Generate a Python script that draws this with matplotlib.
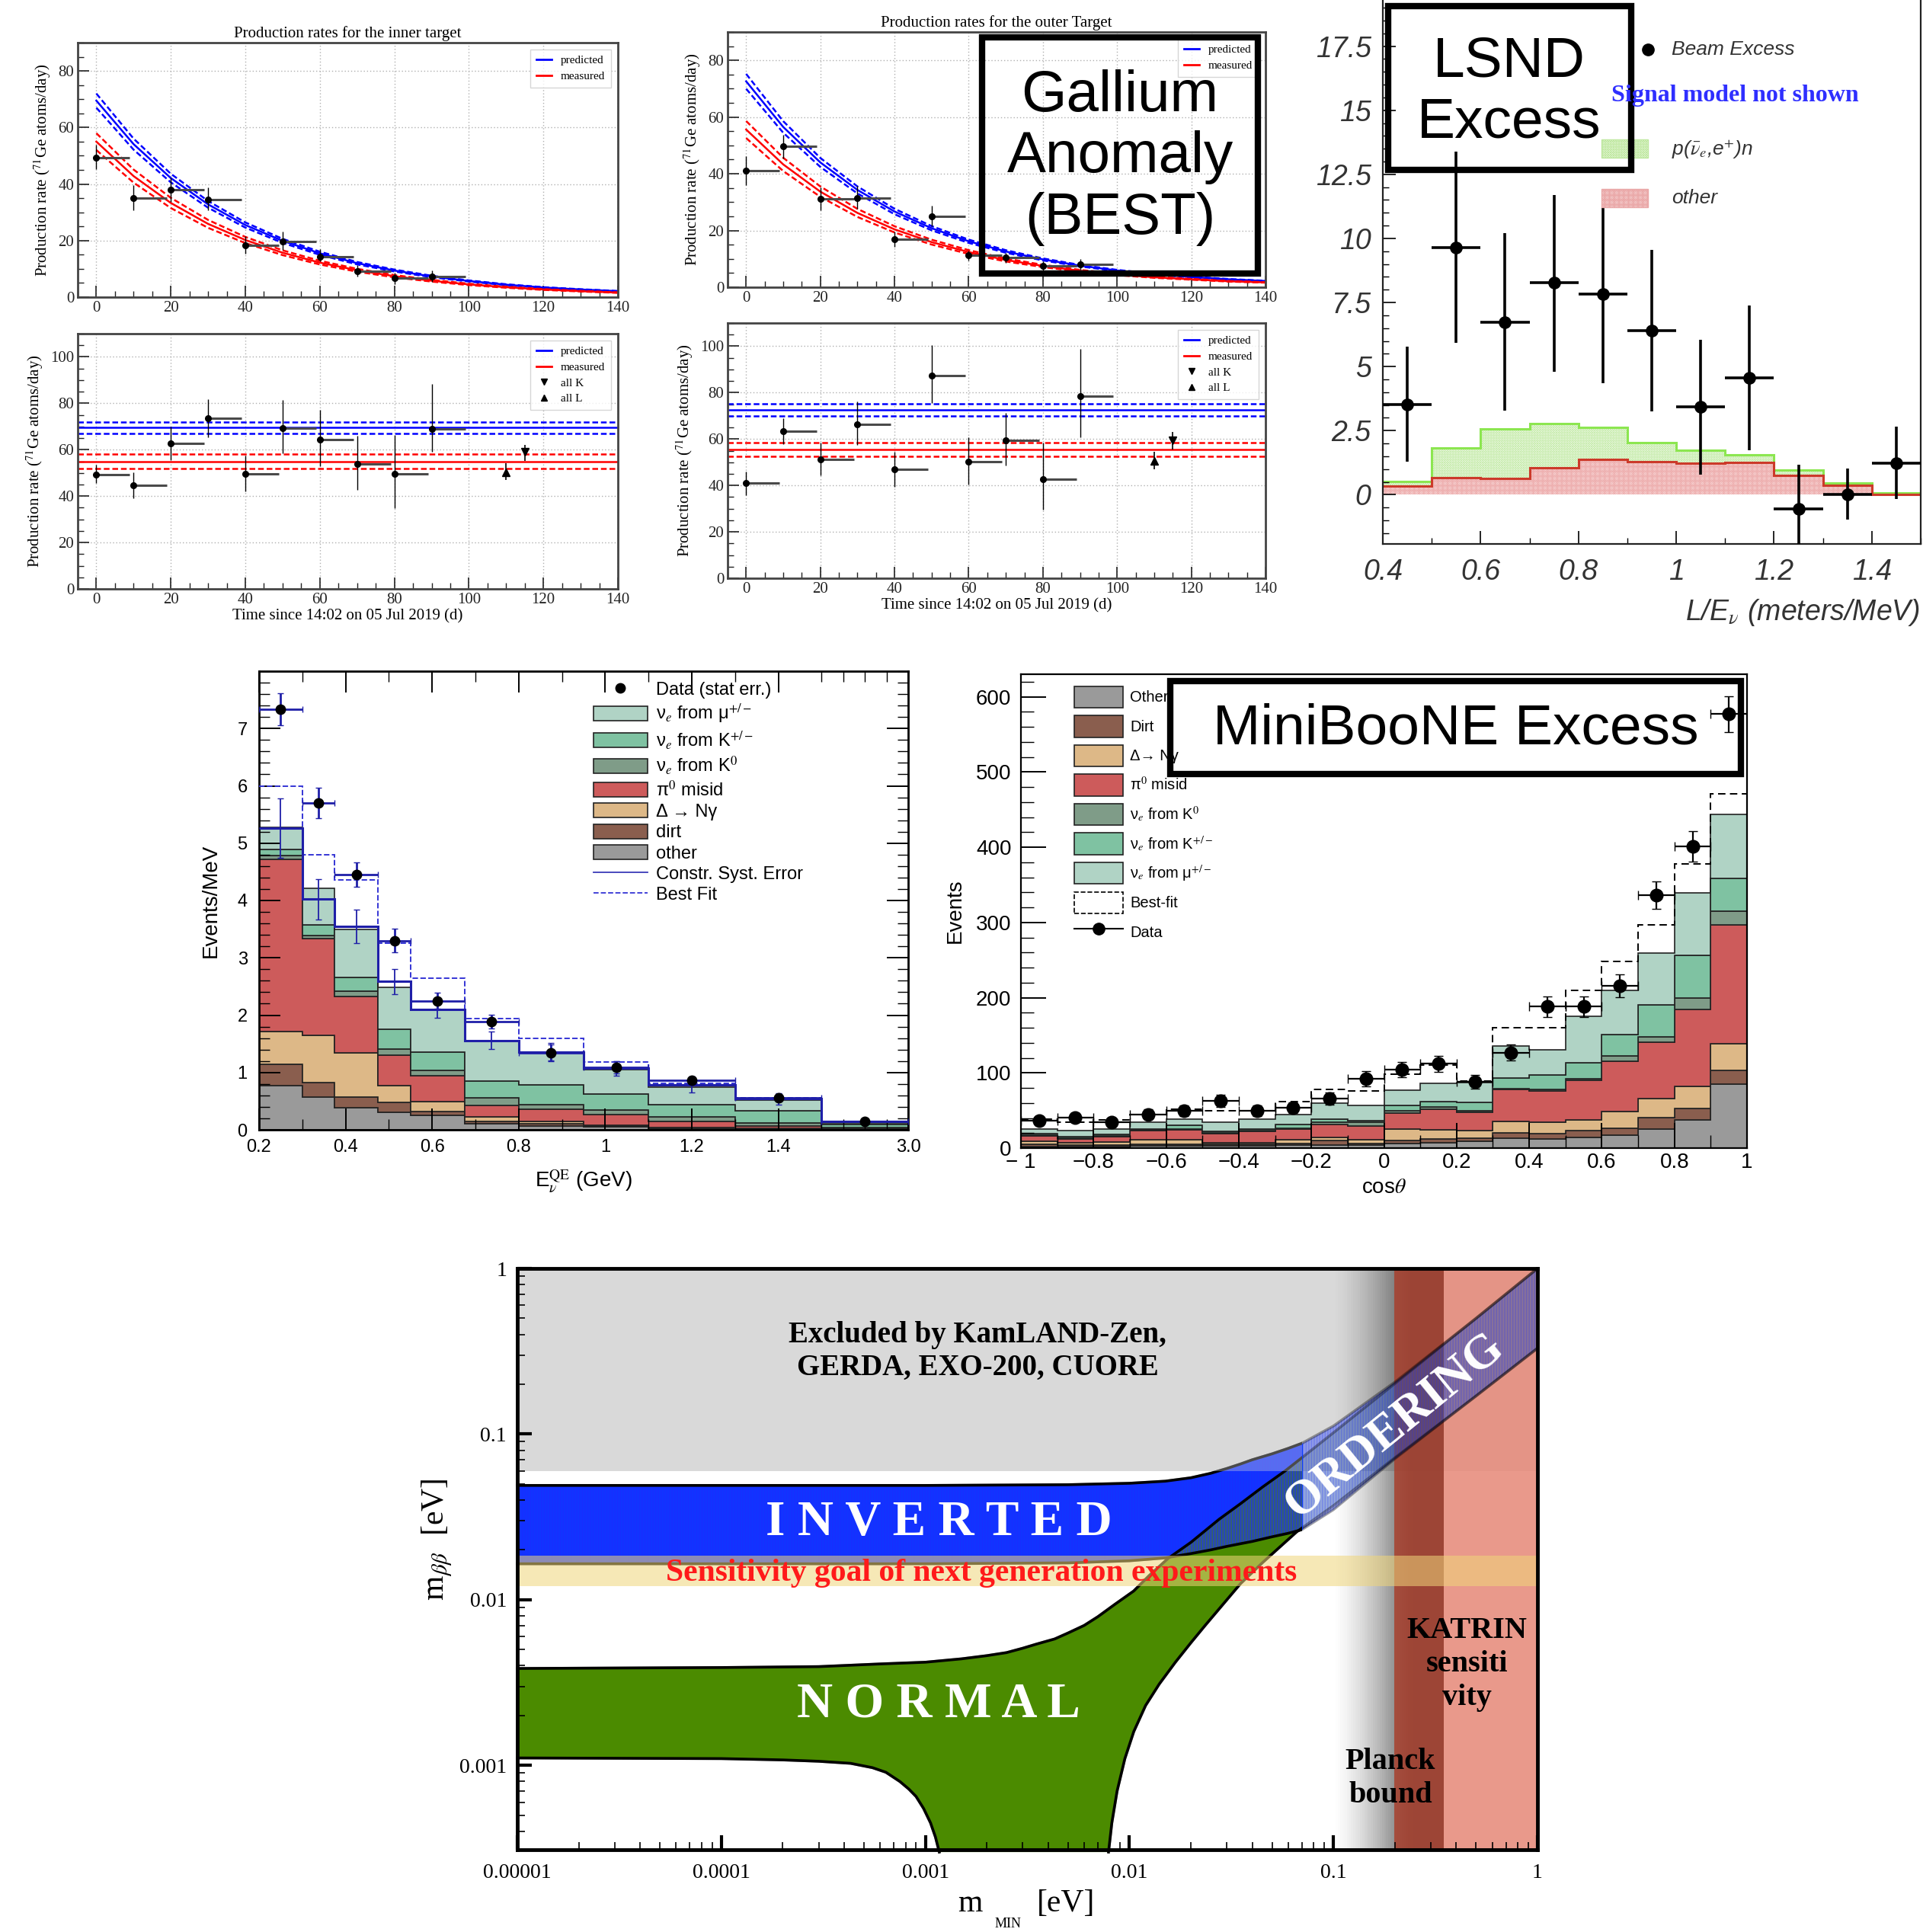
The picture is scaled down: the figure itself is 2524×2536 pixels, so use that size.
import numpy as np
import matplotlib
matplotlib.use("Agg")
import matplotlib.pyplot as plt
from matplotlib.patches import Rectangle, Patch
from matplotlib.lines import Line2D
from matplotlib.ticker import MultipleLocator, NullFormatter

plt.rcParams['mathtext.fontset'] = 'stix'
plt.rcParams['hatch.linewidth'] = 0.6

SERIF = 'Liberation Serif'
SANS = 'Liberation Sans'

# ---------------- BEST (gallium) ----------------
t_curve = [0, 10, 20, 30, 40, 50, 60, 70, 80, 90, 100, 110, 120, 130, 140]
inner_pred = [69.5, 54.1, 42.1, 32.8, 25.5, 19.9, 15.5, 12.0, 9.4, 7.3, 5.7, 4.4, 3.4, 2.7, 2.1]
inner_meas = [55.0, 42.8, 33.3, 25.9, 20.2, 15.7, 12.2, 9.5, 7.4, 5.8, 4.5, 3.5, 2.7, 2.1, 1.6]
outer_pred = [72.6, 56.5, 44.0, 34.3, 26.7, 20.8, 16.2, 12.6, 9.8, 7.6, 5.9, 4.6, 3.6, 2.8, 2.2]
outer_meas = [55.6, 43.3, 33.7, 26.2, 20.4, 15.9, 12.4, 9.6, 7.5, 5.8, 4.5, 3.5, 2.8, 2.1, 1.7]
pred_band = 0.036   # relative uncertainty (dashed lines)
meas_band = 0.054

run_start = [0, 10, 20, 30, 40, 50, 60, 70, 80, 90]
run_len = 9

inner_rate = [49.4, 34.9, 38.1, 34.5, 18.2, 19.8, 14.2, 9.2, 6.7, 7.2]
inner_rate_lo = [45.4, 30.6, 33.7, 30.7, 15.3, 16.6, 12.6, 7.2, 4.5, 5.4]
inner_rate_hi = [53.8, 39.6, 42.2, 38.7, 21.6, 23.2, 17.1, 11.2, 8.5, 9.4]

inner_norm = [49.3, 44.8, 62.8, 73.4, 49.7, 69.3, 64.4, 53.7, 49.7, 69.0]
inner_norm_lo = [45.5, 39.2, 55.5, 65.2, 41.9, 58.4, 52.9, 42.7, 34.8, 59.1]
inner_norm_hi = [53.5, 50.4, 70.1, 81.8, 57.5, 81.4, 77.2, 65.9, 66.3, 88.4]
inner_allK = (115, 59.1, 55.3, 61.9)
inner_allL = (110, 50.4, 46.9, 54.2)

outer_rate = [41.0, 49.6, 31.1, 31.5, 17.0, 25.0, 11.2, 10.4, 7.5, 8.1]
outer_rate_lo = [36.0, 45.3, 27.1, 27.8, 14.3, 21.5, 9.4, 8.5, 5.8, 6.3]
outer_rate_hi = [46.1, 53.8, 35.2, 35.6, 19.7, 28.7, 13.0, 12.1, 9.2, 9.9]

outer_norm = [40.9, 63.4, 51.3, 66.4, 46.8, 87.2, 50.2, 59.5, 42.8, 78.6]
outer_norm_lo = [35.7, 57.8, 44.4, 57.3, 39.4, 75.4, 40.5, 48.5, 29.4, 60.6]
outer_norm_hi = [46.1, 69.0, 58.4, 76.2, 54.5, 100.5, 60.8, 71.2, 58.4, 98.7]
outer_allK = (115, 59.5, 55.5, 63.0)
outer_allL = (110, 50.5, 46.9, 54.5)

# ---------------- LSND ----------------
lsnd_edges = [0.4, 0.5, 0.6, 0.7, 0.8, 0.9, 1.0, 1.1, 1.2, 1.3, 1.4, 1.5]
lsnd_excess = [3.53, 9.65, 6.72, 8.27, 7.82, 6.40, 3.42, 4.55, -0.55, 0.0, 1.22]
lsnd_lo = [1.29, 5.92, 3.27, 4.79, 4.36, 3.25, 0.78, 1.73, -2.4, -0.97, -0.16]
lsnd_hi = [5.78, 13.4, 10.2, 11.7, 11.3, 9.54, 6.04, 7.38, 1.18, 1.02, 2.67]
lsnd_other = [0.35, 0.68, 0.63, 1.05, 1.37, 1.29, 1.22, 1.26, 0.75, 0.38, 0.0]
lsnd_total = [0.52, 1.81, 2.56, 2.79, 2.62, 2.04, 1.73, 1.57, 0.97, 0.47, 0.08]

# ---------------- MiniBooNE, energy ----------------
mbE_edges = [0.2, 0.3, 0.375, 0.475, 0.55, 0.675, 0.8, 0.95, 1.1, 1.3, 1.5, 3.0]
mbE_other = [0.77, 0.57, 0.38, 0.31, 0.25, 0.11, 0.07, 0.05, 0.03, 0.02, 0.01]
mbE_dirt = [0.37, 0.26, 0.19, 0.17, 0.07, 0.04, 0.04, 0.02, 0.01, 0.00, 0.00]
mbE_delta = [0.57, 0.82, 0.77, 0.29, 0.17, 0.07, 0.03, 0.01, 0.00, 0.01, 0.00]
mbE_pi0 = [3.01, 1.68, 0.99, 0.53, 0.45, 0.20, 0.22, 0.19, 0.11, 0.04, 0.01]
mbE_k0 = [0.06, 0.06, 0.09, 0.11, 0.09, 0.14, 0.08, 0.07, 0.07, 0.05, 0.02]
mbE_kpm = [0.11, 0.19, 0.24, 0.34, 0.33, 0.29, 0.34, 0.28, 0.22, 0.21, 0.05]
mbE_mu = [0.38, 0.63, 0.84, 0.73, 0.74, 0.71, 0.56, 0.43, 0.30, 0.19, 0.03]
mbE_best = [6.00, 4.80, 4.36, 3.26, 2.64, 1.94, 1.59, 1.18, 0.81, 0.56, 0.15]
mbE_constr = [5.26, 4.02, 3.55, 2.59, 2.10, 1.56, 1.36, 1.07, 0.78, 0.54, 0.14]
mbE_constr_err = [0.52, 0.35, 0.29, 0.22, 0.14, 0.15, 0.15, 0.12, 0.13, 0.10, 0.03]
mbE_data = [7.33, 5.70, 4.45, 3.30, 2.25, 1.89, 1.34, 1.09, 0.86, 0.56, 0.14]
mbE_data_err = [0.28, 0.27, 0.21, 0.21, 0.14, 0.12, 0.15, 0.10, 0.07, 0.07, 0.03]

# ---------------- MiniBooNE, cos theta ----------------
cos_edges = [-1.0, -0.9, -0.8, -0.7, -0.6, -0.5, -0.4, -0.3, -0.2, -0.1, 0.0,
             0.1, 0.2, 0.3, 0.4, 0.5, 0.6, 0.7, 0.8, 0.9, 1.0]
mbC_other = [2, 2, 2, 3, 3, 3, 3, 4, 4, 4, 6, 7, 9, 13, 12, 14, 17, 25, 37, 85]
mbC_dirt = [3, 2, 2, 2, 2, 2, 2, 2, 6, 2, 4, 5, 4, 7, 7, 9, 9, 16, 16, 18]
mbC_delta = [4, 3, 4, 6, 6, 2, 2, 5, 4, 5, 15, 12, 10, 15, 15, 14, 23, 25, 29, 36]
mbC_pi0 = [7, 5, 7, 12, 13, 12, 15, 14, 17, 18, 22, 28, 25, 43, 42, 53, 66, 75, 102, 158]
mbC_k0 = [1, 1, 1, 1, 1, 1, 1, 1, 3, 5, 3, 3, 2, 1, 2, 2, 8, 7, 16, 18]
mbC_kpm = [2, 2, 2, 1, 5, 2, 2, 5, 4, 2, 7, 7, 11, 14, 19, 21, 28, 42, 56, 44]
mbC_mu = [6, 8, 7, 9, 8, 12, 13, 14, 22, 21, 20, 24, 26, 43, 34, 62, 59, 69, 83, 85]
mbC_best = [38, 34, 37, 45, 52, 50, 50, 62, 78, 76, 98, 110, 89, 160, 160, 210, 248, 297, 378, 471]
mbC_data = [36, 41, 34, 45, 50, 63, 50, 54, 66, 92, 104, 112, 88, 127, 188, 188, 216, 336, 401, 577]
mbC_data_err = [6, 6, 6, 7, 7, 8, 7, 7, 8, 10, 10, 11, 9, 11, 14, 14, 15, 18, 20, 24]

# ---------------- 0vbb effective mass ----------------
io_x = [1e-5, 1e-4, 1e-3, 0.005, 0.01, 0.015, 0.02, 0.025, 0.03, 0.035, 0.04, 0.05, 0.06, 0.07,
        0.1, 0.2, 0.5, 1.0]
io_upper = [0.049, 0.049, 0.049, 0.0495, 0.0505, 0.052, 0.0545, 0.058, 0.062, 0.066, 0.070, 0.076,
            0.082, 0.088, 0.112, 0.206, 0.5, 1.0]
io_lower = [0.0165, 0.0165, 0.0165, 0.0167, 0.0172, 0.0179, 0.019, 0.020, 0.021, 0.0218, 0.0225,
            0.024, 0.0252, 0.0265, 0.035, 0.071, 0.17, 0.33]

no_up_x = [1e-5, 1e-4, 3e-4, 6e-4, 1e-3, 1.5e-3, 2e-3, 2.5e-3, 3e-3, 3.5e-3, 4.3e-3, 5e-3, 6e-3,
           7e-3, 8.5e-3, 0.0105, 0.0125, 0.0155, 0.02, 0.0275, 0.035, 0.045, 0.058, 0.07, 0.1,
           0.2, 0.5, 1.0]
no_upper = [0.00385, 0.0039, 0.00395, 0.0041, 0.0042, 0.0044, 0.0046, 0.0048, 0.0051, 0.0054,
            0.0058, 0.0063, 0.0070, 0.0079, 0.0094, 0.0113, 0.0140, 0.0178, 0.0222, 0.0306,
            0.038, 0.048, 0.060, 0.072, 0.102, 0.202, 0.5, 1.0]
no_left_x = [1e-5, 1e-4, 2e-4, 3e-4, 4.3e-4, 5.5e-4, 6.4e-4, 7.5e-4, 8.3e-4, 9e-4, 9.8e-4,
             1.06e-3, 1.12e-3, 1.17e-3]
no_left = [0.00111, 0.0011, 0.00108, 0.00106, 0.00103, 0.00097, 0.00091, 0.0008, 0.00072,
           0.00065, 0.00055, 0.00045, 0.00037, 0.0003]
no_right_x = [0.0079, 0.0082, 0.0087, 0.0095, 0.0105, 0.012, 0.014, 0.0168, 0.02, 0.0235, 0.0275,
              0.035, 0.045, 0.055, 0.066, 0.1, 0.2, 0.5, 1.0]
no_right = [0.0003, 0.00045, 0.0007, 0.0011, 0.0016, 0.0023, 0.0031, 0.0042, 0.0055, 0.0070,
            0.0088, 0.0125, 0.0168, 0.021, 0.0257, 0.037, 0.072, 0.17, 0.33]

W, H = 2524, 2536
fig = plt.figure(figsize=(W / 100, H / 100), dpi=100)


def px_box(l, t, r, b):
    return [l / W, 1 - b / H, (r - l) / W, (b - t) / H]


def fx(x):
    return x / W


def fy(y):
    return 1 - y / H


def frame_box(l, t, r, b, lw=6):
    rect = Rectangle((fx(l), fy(b)), (r - l) / W, (b - t) / H, transform=fig.transFigure,
                     fill=False, ec='black', lw=lw)
    fig.add_artist(rect)


# ======== gallium panels ========
def style_gallium(ax, ymax):
    ax.set_xlim(-5, 140)
    ax.set_ylim(0, ymax)
    ax.xaxis.set_major_locator(MultipleLocator(20))
    ax.xaxis.set_minor_locator(MultipleLocator(5))
    ax.yaxis.set_major_locator(MultipleLocator(20))
    ax.yaxis.set_minor_locator(MultipleLocator(5))
    ax.tick_params(which='both', direction='in', labelsize=15, labelfontfamily=SERIF, colors='#222')
    ax.tick_params(which='major', length=11, width=1.2)
    ax.tick_params(which='minor', length=6, width=1.0)
    ax.grid(True, which='major', ls=(0, (1, 2)), color='#b0b0b0', lw=1.0)
    ax.set_axisbelow(True)
    for s in ax.spines.values():
        s.set_color('#444')
        s.set_linewidth(2)
    ax.set_ylabel(r'Production rate ($^{71}$Ge atoms/day)', fontsize=15, family=SERIF, labelpad=5)


def gallium_legend(ax, with_k):
    h = [Line2D([], [], color='blue', lw=2), Line2D([], [], color='red', lw=2)]
    lab = ['predicted', 'measured']
    if with_k:
        h += [Line2D([], [], color='black', marker='v', ls='none', ms=6),
              Line2D([], [], color='black', marker='^', ls='none', ms=6)]
        lab += ['all K', 'all L']
    ax.legend(h, lab, loc='upper right', prop={'family': SERIF, 'size': 11}, handlelength=1.3,
              frameon=True, fancybox=False, edgecolor='#cccccc', borderpad=0.5, labelspacing=0.45,
              borderaxespad=0.6)


def gallium_points(ax, rate, lo, hi):
    r = np.array(rate)
    ax.hlines(r, run_start, np.array(run_start) + run_len, color='#4a4a4a', lw=2.2, zorder=3)
    ax.errorbar(run_start, r, yerr=[r - np.array(lo), np.array(hi) - r], fmt='o', color='black',
                ms=5.5, lw=1.0, capsize=0, zorder=4)


def gallium_top(ax, pred, meas, rate, lo, hi, title):
    for vals, col, frac in ((pred, 'blue', pred_band), (meas, 'red', meas_band)):
        v = np.array(vals)
        ax.plot(t_curve, v, color=col, lw=1.8, zorder=2)
        ax.plot(t_curve, v * (1 + frac), color=col, lw=1.8, ls=(0, (3, 1.5)), zorder=2)
        ax.plot(t_curve, v * (1 - frac), color=col, lw=1.8, ls=(0, (3, 1.5)), zorder=2)
    gallium_points(ax, rate, lo, hi)
    style_gallium(ax, 90)
    ax.set_title(title, fontsize=15, family=SERIF, pad=5)
    gallium_legend(ax, False)


def gallium_bottom(ax, pred0, meas0, rate, lo, hi, allK, allL):
    for v, col, frac in ((pred0, 'blue', pred_band), (meas0, 'red', meas_band)):
        ax.axhline(v, color=col, lw=1.8, zorder=2)
        ax.axhline(v * (1 + frac), color=col, lw=1.8, ls=(0, (3, 1.5)), zorder=2)
        ax.axhline(v * (1 - frac), color=col, lw=1.8, ls=(0, (3, 1.5)), zorder=2)
    gallium_points(ax, rate, lo, hi)
    for pt, mk in ((allK, 'v'), (allL, '^')):
        ax.errorbar([pt[0]], [pt[1]], yerr=[[pt[1] - pt[2]], [pt[3] - pt[1]]], fmt=mk,
                    color='black', ms=7, lw=1.2, capsize=0, zorder=4)
    style_gallium(ax, 110)
    ax.set_xlabel('Time since 14:02 on 05 Jul 2019 (d)', fontsize=15, family=SERIF, labelpad=2)
    gallium_legend(ax, True)


axA = fig.add_axes(px_box(102, 56, 811, 390))
gallium_top(axA, inner_pred, inner_meas, inner_rate, inner_rate_lo, inner_rate_hi,
            'Production rates for the inner target')
axB = fig.add_axes(px_box(102, 438, 811, 773))
gallium_bottom(axB, inner_pred[0], inner_meas[0], inner_norm, inner_norm_lo, inner_norm_hi,
               inner_allK, inner_allL)
axC = fig.add_axes(px_box(955, 42, 1661, 377))
gallium_top(axC, outer_pred, outer_meas, outer_rate, outer_rate_lo, outer_rate_hi,
            'Production rates for the outer Target')
axD = fig.add_axes(px_box(955, 424, 1661, 759))
gallium_bottom(axD, outer_pred[0], outer_meas[0], outer_norm, outer_norm_lo, outer_norm_hi,
               outer_allK, outer_allL)

frame_box(1289, 49, 1651, 359)
fig.text(fx(1470), fy(207), 'Gallium\nAnomaly\n(BEST)', ha='center', va='center', fontsize=55,
         family=SANS, linespacing=1.18)

# ======== LSND ========
axE = fig.add_axes(px_box(1815, 0, 2521, 714))
le = np.array(lsnd_edges)
axE.stairs(lsnd_total, le, baseline=lsnd_other, fill=True, facecolor='#f7fdf2', edgecolor='#c9ecb0',
           hatch='x' * 12, lw=0)
axE.stairs(lsnd_total, le, baseline=None, color='#8ce650', lw=2.2)
axE.stairs(lsnd_other, le, baseline=0, fill=True, facecolor='#fdf1f1', edgecolor='#eeb0b0',
           hatch='x' * 14, lw=0)
axE.stairs(lsnd_other, le, baseline=None, color='#cc3a2a', lw=2.2)
lc = (le[:-1] + le[1:]) / 2
ex = np.array(lsnd_excess)
axE.errorbar(lc, ex, xerr=np.diff(le) / 2, yerr=[ex - np.array(lsnd_lo), np.array(lsnd_hi) - ex],
             fmt='o', color='black', ms=11, lw=2.6, capsize=0, zorder=5)
axE.set_xlim(0.4, 1.5)
axE.set_ylim(-1.92, 19.3)
axE.set_yticks([0, 2.5, 5, 7.5, 10, 12.5, 15, 17.5])
axE.set_yticklabels(['0', '2.5', '5', '7.5', '10', '12.5', '15', '17.5'], fontsize=27, family=SANS,
                    fontstyle='italic', color='#333')
axE.set_xticks([0.4, 0.6, 0.8, 1.0, 1.2, 1.4])
axE.set_xticklabels(['0.4', '0.6', '0.8', '1', '1.2', '1.4'], fontsize=27, family=SANS,
                    fontstyle='italic', color='#333')
axE.yaxis.set_minor_locator(MultipleLocator(0.5))
axE.xaxis.set_minor_locator(MultipleLocator(0.1))
axE.tick_params(which='both', direction='in', top=False, right=False)
axE.tick_params(axis='y', which='major', length=12, width=1.2, pad=11)
axE.tick_params(axis='x', which='major', length=12, width=1.2, pad=14)
axE.tick_params(which='minor', length=6, width=1.0)
axE.spines['top'].set_visible(False)
for s in ('left', 'bottom', 'right'):
    axE.spines[s].set_linewidth(1.6)
    axE.spines[s].set_color('#222')
fig.text(fx(2520), fy(804), r'L/E$_{\nu}$ (meters/MeV)', ha='right', va='center', fontsize=27,
         family=SANS, fontstyle='italic', color='#333')

# LSND legend
fig.add_artist(Line2D([fx(2163)], [fy(65)], marker='o', color='black', ms=11, transform=fig.transFigure))
fig.text(fx(2194), fy(65), 'Beam Excess', ha='left', va='center', fontsize=19, family=SANS,
         fontstyle='italic', color='#333')
fig.text(fx(2277), fy(126), 'Signal model not shown', ha='center', va='center', fontsize=23,
         family=SERIF, fontweight='bold', color='#2f2fff')
fig.add_artist(Rectangle((fx(2102), fy(207)), 61 / W, 24 / H, transform=fig.transFigure,
                         facecolor='#f3fbec', edgecolor='#bfe8a0', hatch='x' * 12, lw=1))
fig.text(fx(2194), fy(196), r'p($\bar{\nu}_{e}$,e$^{+}$)n', ha='left', va='center', fontsize=19,
         family=SANS, fontstyle='italic', color='#333')
fig.add_artist(Rectangle((fx(2102), fy(272)), 61 / W, 24 / H, transform=fig.transFigure,
                         facecolor='#fcefef', edgecolor='#eaa8a8', hatch='x' * 14, lw=1))
fig.text(fx(2194), fy(260), 'other', ha='left', va='center', fontsize=19, family=SANS,
         fontstyle='italic', color='#333')

frame_box(1822, 8, 2141, 223)
fig.text(fx(1981), fy(121), 'LSND\nExcess', ha='center', va='center', fontsize=54, family=SANS,
         linespacing=1.2)

# ======== MiniBooNE energy ========
stack_cols = ['#9a9a9a', '#8a5e4e', '#ddb887', '#cd5b5b', '#7f9c88', '#7fc2a2', '#b0d3c5']
LEG_FONT = [SANS, 'DejaVu Sans']


def fwd(x):
    x = np.asarray(x, float)
    return np.where(x <= 1.5, x, 1.5 + (x - 1.5) * (0.2 / 1.5))


def inv(u):
    u = np.asarray(u, float)
    return np.where(u <= 1.5, u, 1.5 + (u - 1.5) * 7.5)


def draw_stack(ax, edges, comps):
    base = np.zeros(len(edges) - 1)
    for c, col in zip(comps, stack_cols):
        top = base + np.array(c, float)
        ax.stairs(top, edges, baseline=base, fill=True, facecolor=col, edgecolor='#222', lw=1.2)
        base = top


axF = fig.add_axes(px_box(340, 881, 1192, 1483))
axF.set_xscale('function', functions=(fwd, inv))
fe = np.array(mbE_edges)
draw_stack(axF, fe, [mbE_other, mbE_dirt, mbE_delta, mbE_pi0, mbE_k0, mbE_kpm, mbE_mu])
fc = (fe[:-1] + fe[1:]) / 2
axF.stairs(mbE_best, fe, baseline=None, color='#3535d5', ls='--', lw=1.4, zorder=3)
axF.stairs(mbE_constr, fe, baseline=None, color='#1f1fa8', lw=2.2, zorder=3)
axF.errorbar(fc, mbE_constr, yerr=mbE_constr_err, fmt='none', ecolor='#1f1fa8', lw=1.3, capsize=3,
             zorder=3)
axF.errorbar(fc, mbE_data, xerr=np.diff(fe) / 2, yerr=mbE_data_err, fmt='o', color='black',
             ecolor='#1f1fa8', ms=9, elinewidth=2.0, capsize=3, zorder=4)
axF.set_xlim(0.2, 3.0)
axF.set_ylim(0, 8)
axF.set_xticks([0.2, 0.4, 0.6, 0.8, 1.0, 1.2, 1.4, 3.0])
axF.set_xticklabels(['0.2', '0.4', '0.6', '0.8', '1', '1.2', '1.4', '3.0'], fontsize=17, family=SANS)
axF.set_xticks([0.3, 0.5, 0.7, 0.9, 1.1, 1.3, 1.5, 1.875, 2.25, 2.625], minor=True)
axF.xaxis.set_minor_formatter(NullFormatter())
axF.set_yticks(range(8))
axF.set_yticklabels([str(i) for i in range(8)], fontsize=17, family=SANS)
axF.yaxis.set_minor_locator(MultipleLocator(0.2))
axF.tick_params(which='both', direction='in', top=True, right=True)
axF.tick_params(which='major', length=20, width=1.4)
axF.tick_params(which='minor', length=10, width=1.0)
axF.tick_params(axis='y', which='major', pad=11)
axF.tick_params(axis='x', which='major', pad=9)
for s in axF.spines.values():
    s.set_linewidth(2)
axF.set_ylabel('Events/MeV', fontsize=20, family=SANS, labelpad=16)
axF.set_xlabel(r'E$_{\nu}^{\rm QE}$ (GeV)', fontsize=20, family=SANS, labelpad=12)

hF = [Line2D([], [], marker='o', color='black', ls='none', ms=9)]
for col in stack_cols[::-1]:
    hF.append(Patch(facecolor=col, edgecolor='#222', lw=1.2))
hF += [Line2D([], [], color='#3a3ab8', lw=1.3), Line2D([], [], color='#3535d5', lw=1.3, ls='--')]
lF = ['Data (stat err.)', '\u03bd$_{e}$ from \u03bc$^{+/-}$', '\u03bd$_{e}$ from K$^{+/-}$',
      '\u03bd$_{e}$ from K$^{0}$', '\u03c0$^{0}$ misid', '\u0394 \u2192 N\u03b3', 'dirt', 'other',
      'Constr. Syst. Error', 'Best Fit']
axF.legend(hF, lF, loc='upper left', bbox_to_anchor=(0.515, 0.978), frameon=False,
           prop={'family': LEG_FONT, 'size': 17}, handlelength=3.0, handleheight=0.85,
           labelspacing=0.2, handletextpad=0.5, borderaxespad=0, borderpad=0)

# ======== MiniBooNE cos theta ========
axG = fig.add_axes(px_box(1340, 885, 2293, 1507))
ce = np.array(cos_edges)
draw_stack(axG, ce, [mbC_other, mbC_dirt, mbC_delta, mbC_pi0, mbC_k0, mbC_kpm, mbC_mu])
axG.stairs(mbC_best, ce, baseline=None, color='black', ls=(0, (5, 3)), lw=1.4, zorder=3)
cc = (ce[:-1] + ce[1:]) / 2
axG.errorbar(cc, mbC_data, xerr=np.diff(ce) / 2, yerr=mbC_data_err, fmt='o', color='black',
             ms=12, elinewidth=1.6, capsize=4, zorder=8)
axG.set_xlim(-1, 1)
axG.set_ylim(0, 630)
axG.set_xticks([-1, -0.8, -0.6, -0.4, -0.2, 0, 0.2, 0.4, 0.6, 0.8, 1])
axG.set_xticklabels(['\u2212 1', '\u22120.8', '\u22120.6', '\u22120.4', '\u22120.2', '0', '0.2', '0.4',
                     '0.6', '0.8', '1'], fontsize=20, family=SANS)
axG.xaxis.set_minor_locator(MultipleLocator(0.1))
axG.set_yticks([0, 100, 200, 300, 400, 500, 600])
axG.set_yticklabels(['0', '100', '200', '300', '400', '500', '600'], fontsize=20, family=SANS)
axG.yaxis.set_minor_locator(MultipleLocator(20))
axG.tick_params(which='both', direction='in', top=False, right=False)
axG.tick_params(which='major', length=24, width=1.4)
axG.tick_params(which='minor', length=12, width=1.0)
axG.tick_params(axis='y', which='major', pad=9)
axG.tick_params(axis='x', which='major', pad=4)
for s in axG.spines.values():
    s.set_linewidth(1.6)
axG.set_ylabel('Events', fontsize=20, family=SANS, labelpad=10)
axG.set_xlabel(r'cos$\theta$', fontsize=20, family=SANS, labelpad=5)

hG = [Patch(facecolor=c, edgecolor='#222', lw=1.2) for c in stack_cols]
hG += [Patch(facecolor='white', edgecolor='black', ls='--', lw=1.2),
       Line2D([], [], color='black', marker='o', ms=11, lw=1.5)]
lG = ['Other', 'Dirt', '\u0394\u2192 N\u03b3', '\u03c0$^{0}$ misid', '\u03bd$_{e}$ from K$^{0}$',
      '\u03bd$_{e}$ from K$^{+/-}$', '\u03bd$_{e}$ from \u03bc$^{+/-}$', 'Best-fit', 'Data']
legG = axG.legend(hG, lG, loc='upper left', bbox_to_anchor=(0.073, 0.975), frameon=False,
                  prop={'family': LEG_FONT, 'size': 14.5}, handlelength=3.2, handleheight=1.8,
                  labelspacing=0.5, handletextpad=0.45, borderaxespad=0, borderpad=0)
legG.set_zorder(5)

frame_box(1536, 894, 2285, 1016)
fig.text(fx(1911), fy(957), 'MiniBooNE Excess', ha='center', va='center', fontsize=54, family=SANS)

# ======== effective Majorana mass ========
axH = fig.add_axes(px_box(679, 1665, 2018, 2428))
axH.set_xscale('log')
axH.set_yscale('log')
axH.set_xlim(1e-5, 1)
axH.set_ylim(3.1e-4, 1)

# background: exclusion, Planck gradient, KATRIN bands
axH.fill_between([1e-5, 1.0], 0.06, 1, color='#d9d9d9', lw=0, zorder=0.2)
g_edges = np.logspace(np.log10(0.1), np.log10(0.346), 51)
for i in range(50):
    a = min(1.0, ((i + 0.5) / 36)) ** 1.4 * 0.78
    axH.axvspan(g_edges[i], g_edges[i + 1], color='#3a3a3a', alpha=a, lw=0, zorder=0.3)
axH.axvspan(0.198, 0.346, color='#a8402e', alpha=0.85, lw=0, zorder=0.4)
axH.axvspan(0.346, 1.0, color='#e68a7a', alpha=0.87, lw=0, zorder=0.4)

poly_x = no_up_x + no_right_x[::-1] + no_left_x[::-1]
poly_y = no_upper + no_right[::-1] + no_left[::-1]


def draw_orderings(alpha, hatch_alpha, line_alpha, z, clip=None):
    arts = []
    arts.append(axH.fill_between(io_x, io_lower, io_upper, color='#0a3cff', lw=0, alpha=alpha,
                                 zorder=z))
    arts += axH.fill(poly_x, poly_y, color='#4b8b00', lw=0, alpha=alpha, zorder=z + 0.01)
    arts.append(axH.fill_between(io_x, io_lower, io_upper, facecolor='none', edgecolor='#1a2cff',
                                 hatch='|' * 12, lw=0, alpha=hatch_alpha, zorder=z + 0.02))
    for xs, ys in ((io_x, io_upper), (io_x, io_lower), (no_up_x, no_upper), (no_left_x, no_left),
                   (no_right_x, no_right)):
        arts += axH.plot(xs, ys, color='black', lw=2.6, alpha=line_alpha, zorder=z + 0.03)
    if clip is not None:
        for a in arts:
            a.set_clip_path(clip)


draw_orderings(0.18, 0.5, 0.35, 1.0)
left_clip = Rectangle((1e-6, 1e-6), 0.07 - 1e-6, 10, transform=axH.transData)
draw_orderings(1.0, 1.0, 1.0, 1.1, clip=left_clip)
axH.fill_between([1e-5, 0.07], 0.06, 1, color='#d9d9d9', alpha=0.35, lw=0, zorder=1.5)
axH.axhspan(0.0121, 0.0184, color='#f0d67a', alpha=0.55, lw=0, zorder=1.9)

axH.set_xticks([1e-5, 1e-4, 1e-3, 1e-2, 1e-1, 1])
axH.set_xticklabels(['0.00001', '0.0001', '0.001', '0.01', '0.1', '1'], fontsize=20, family=SERIF)
axH.set_yticks([1e-3, 1e-2, 1e-1, 1])
axH.set_yticklabels(['0.001', '0.01', '0.1', '1'], fontsize=20, family=SERIF)
axH.xaxis.set_minor_formatter(NullFormatter())
axH.yaxis.set_minor_formatter(NullFormatter())
axH.tick_params(which='both', direction='in', top=False, right=False)
axH.tick_params(which='major', length=14, width=3)
axH.tick_params(which='minor', length=7, width=1.2)
axH.tick_params(axis='x', which='major', pad=13)
axH.tick_params(axis='y', which='major', pad=10)
for s in axH.spines.values():
    s.set_linewidth(3.5)
    s.set_zorder(4)

axH.text(0.0018, 0.316, 'Excluded by KamLAND-Zen,\nGERDA, EXO-200, CUORE', ha='center', va='center',
         fontsize=28, family=SERIF, fontweight='bold', linespacing=1.2, zorder=3)
axH.text(0.00116, 0.029, 'I N V E R T E D', ha='center', va='center', fontsize=47, family=SERIF,
         fontweight='bold', color='white', zorder=3)
axH.text(0.00116, 0.00232, 'N O R M A L', ha='center', va='center', fontsize=47, family=SERIF,
         fontweight='bold', color='white', zorder=3)
axH.text(0.00188, 0.0145, 'Sensitivity goal of next generation experiments', ha='center',
         va='center', fontsize=30, family=SERIF, fontweight='bold', color='#ff1a1a', zorder=3)
axH.text(0.2, 0.113, 'ORDERING', ha='center', va='center', fontsize=46, family=SERIF,
         fontweight='bold', color='white', rotation=39, rotation_mode='anchor', zorder=3)
axH.text(0.45, 0.0041, 'KATRIN\nsensiti\nvity', ha='center', va='center', fontsize=29, family=SERIF,
         fontweight='bold', linespacing=1.25, zorder=3)
axH.text(0.19, 0.00083, 'Planck\nbound', ha='center', va='center', fontsize=29, family=SERIF,
         fontweight='bold', linespacing=1.25, zorder=3)

fig.text(fx(1273), fy(2499), 'm', ha='center', va='center', fontsize=30, family=SERIF)
fig.text(fx(1323), fy(2525), 'MIN', ha='center', va='center', fontsize=13, family=SERIF)
fig.text(fx(1399), fy(2499), '[eV]', ha='center', va='center', fontsize=30, family=SERIF)
fig.text(fx(574), fy(2021), r'm$_{\beta\beta}$  [eV]', ha='center', va='center', fontsize=30,
         family=SERIF, rotation=90)

fig.savefig('out.png', dpi=100)
